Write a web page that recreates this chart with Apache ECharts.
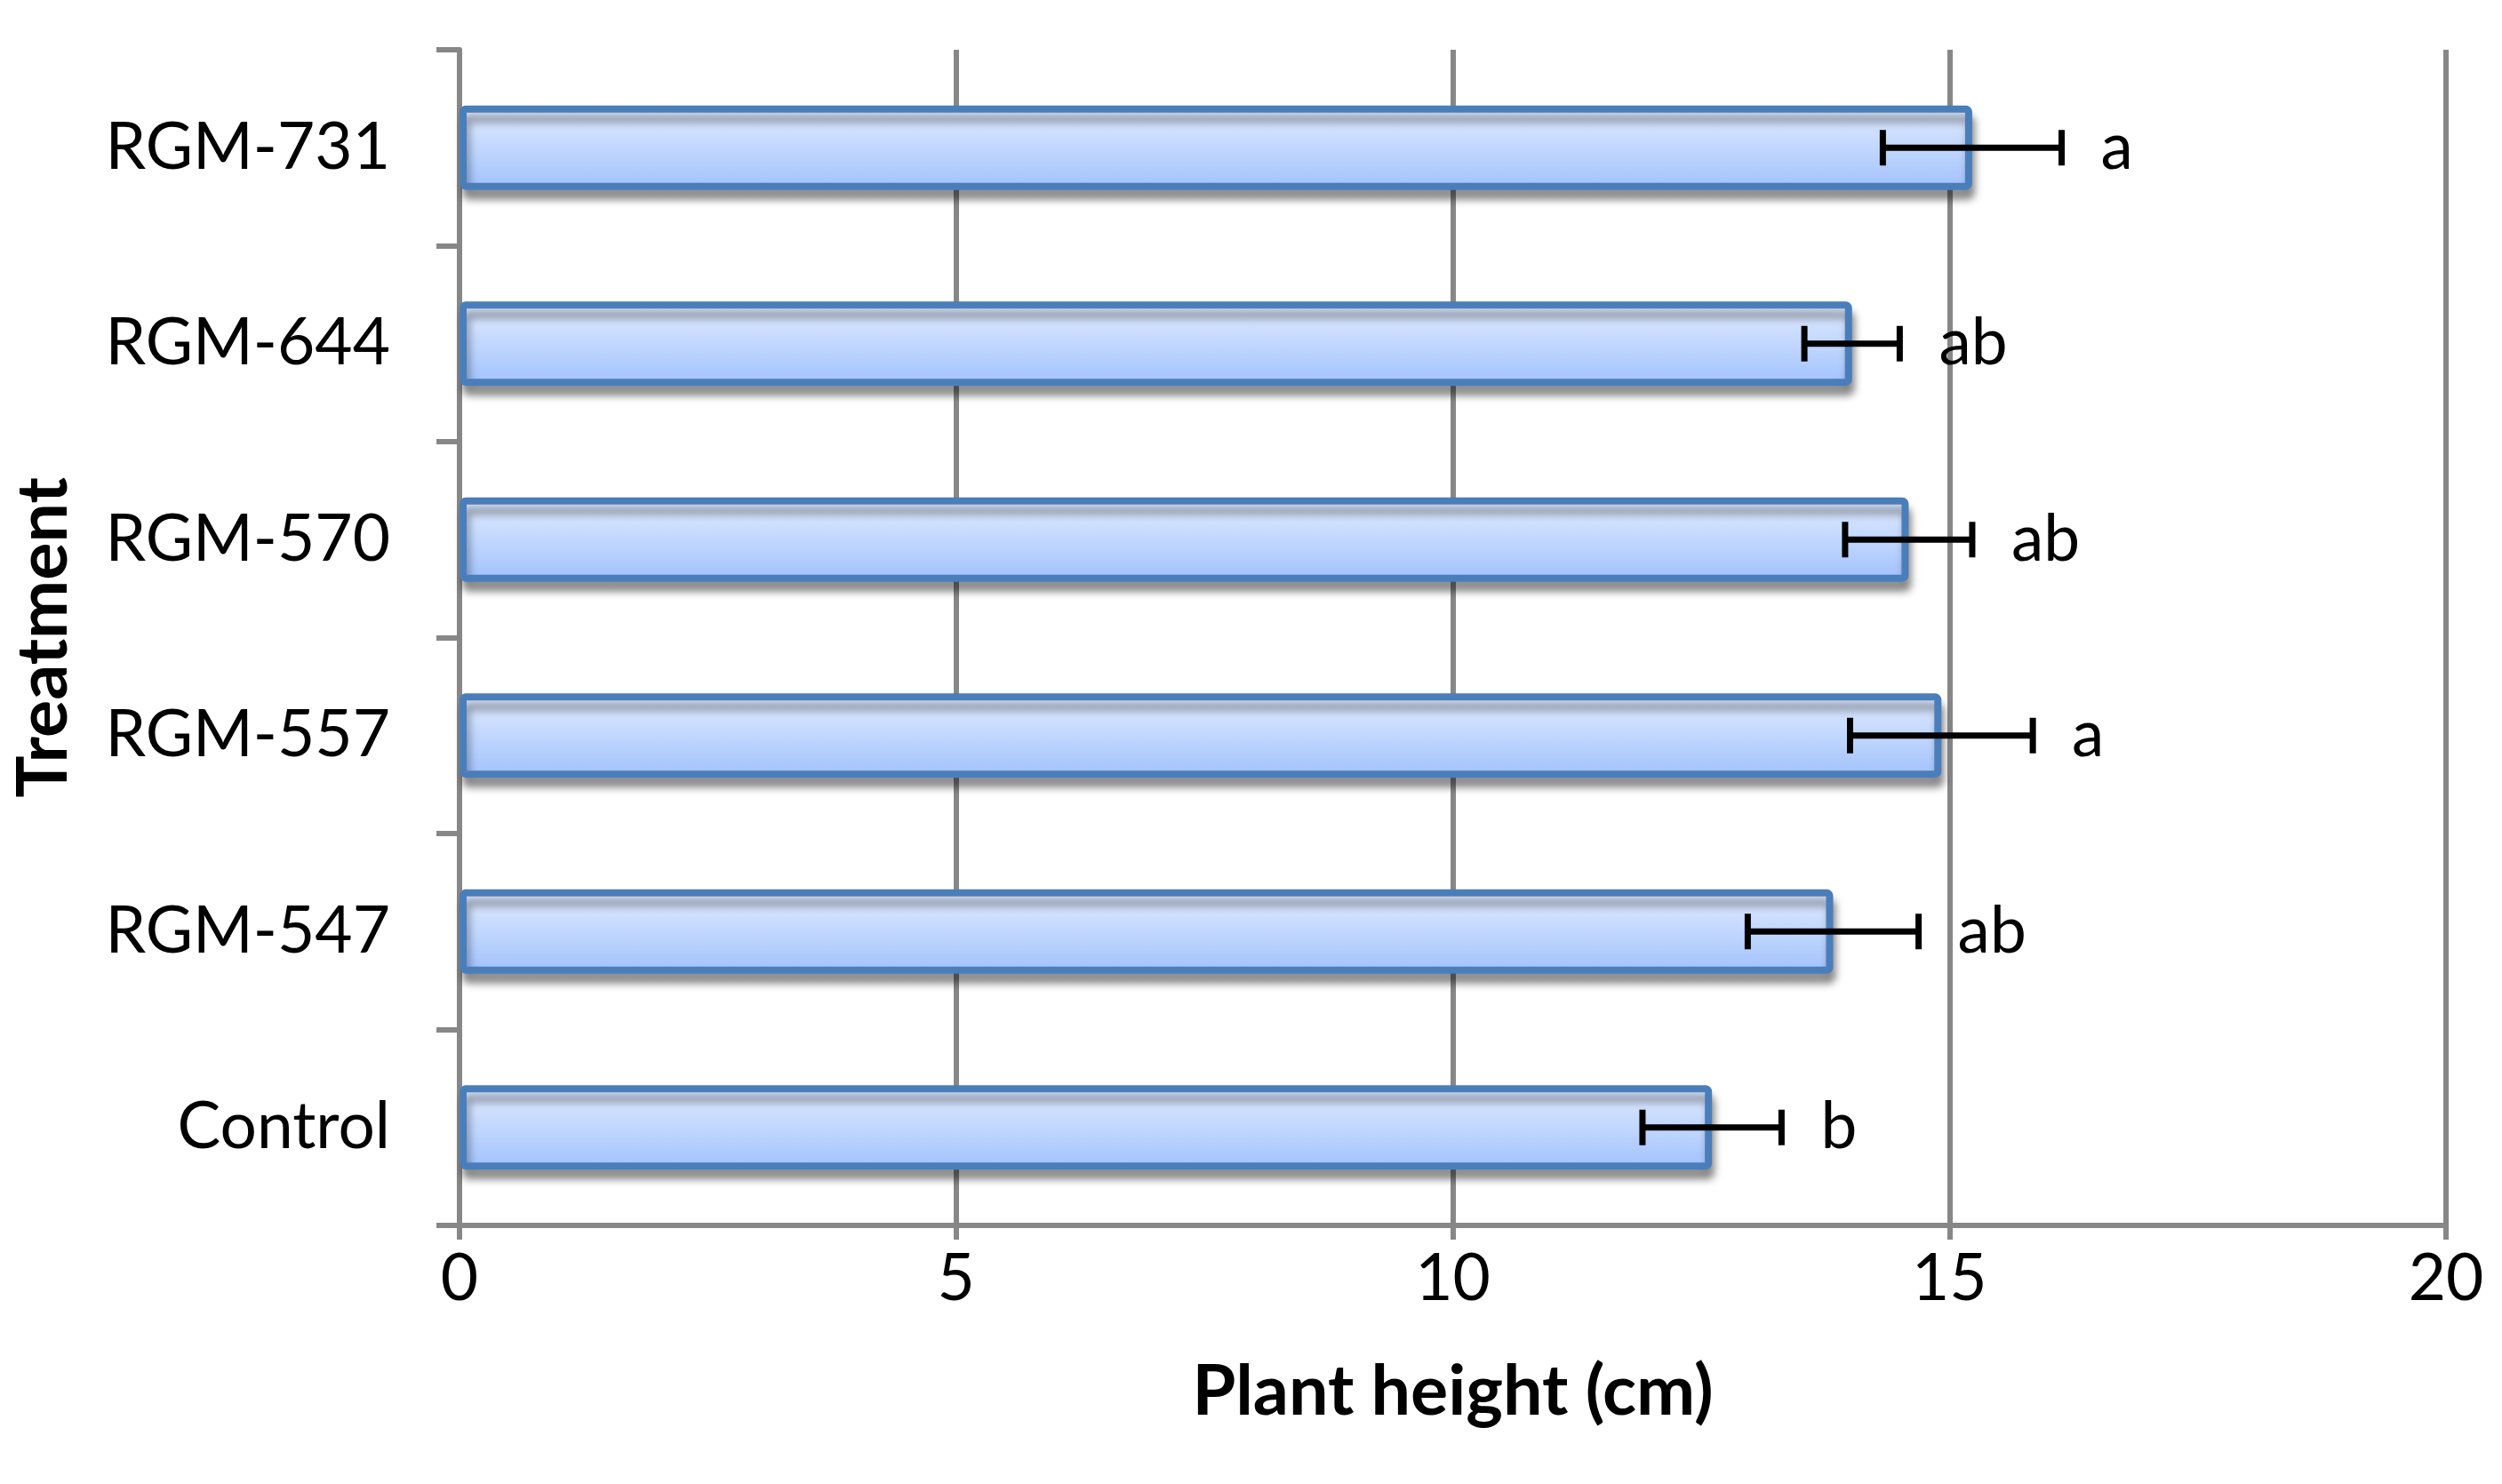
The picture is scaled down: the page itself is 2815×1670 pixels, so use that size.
<!DOCTYPE html>
<html>
<head>
<meta charset="utf-8">
<script src="https://cdn.jsdelivr.net/npm/echarts@6/dist/echarts.min.js"></script>
<style>
  html, body { margin: 0; padding: 0; background: #fff; }
  #chart { width: 2815px; height: 1670px; }
</style>
</head>
<body>
<div id="chart"></div>
<script>
// 处理组 (bottom to top)
let treatments = ["Control", "RGM-547", "RGM-557", "RGM-570", "RGM-644", "RGM-731"];
// 株高均值 (cm)
let heights = [12.61, 13.83, 14.92, 14.59, 14.02, 15.23];
// 误差 (±)
let errors = [0.70, 0.86, 0.92, 0.64, 0.48, 0.90];
// 显著性字母
let letters = ["b", "ab", "a", "ab", "ab", "a"];

let xTicks = [0, 5, 10, 15, 20];

const FONT = "Lato";
const GRAY = "#878787";

let errData = treatments.map((t, i) => [i, heights[i] - errors[i], heights[i] + errors[i]]);

let chart = echarts.init(document.getElementById("chart"), null, { renderer: "canvas" });

chart.setOption({
  animation: false,
  backgroundColor: "#fff",
  grid: { left: 517, right: 63, top: 56, bottom: 291, containLabel: false },
  xAxis: {
    type: "value",
    min: xTicks[0],
    max: xTicks[xTicks.length - 1],
    interval: 5,
    name: "Plant height (cm)",
    nameLocation: "middle",
    nameGap: 148,
    nameTextStyle: { fontFamily: FONT, fontSize: 79, fontWeight: "bold", color: "#000" },
    axisLine: { show: true, lineStyle: { color: GRAY, width: 6 } },
    axisTick: { show: true, length: 16, lineStyle: { color: GRAY, width: 6 } },
    axisLabel: { fontFamily: FONT, fontSize: 73, color: "#000", margin: 24 },
    splitLine: { show: true, lineStyle: { color: GRAY, width: 6 } },
  },
  yAxis: {
    type: "category",
    data: treatments,
    name: "Treatment",
    nameLocation: "middle",
    nameGap: 428,
    nameTextStyle: { fontFamily: FONT, fontSize: 79, fontWeight: "bold", color: "#000" },
    axisLine: { show: true, lineStyle: { color: GRAY, width: 6 } },
    axisTick: { show: true, length: 26, lineStyle: { color: GRAY, width: 6 } },
    axisLabel: { fontFamily: FONT, fontSize: 73, color: "#000", margin: 78 },
    splitLine: { show: false },
  },
  series: [
    {
      type: "bar",
      data: heights,
      barCategoryGap: "57%",
      itemStyle: {
        color: new echarts.graphic.LinearGradient(0, 0, 0, 1, [
          { offset: 0, color: "#e3edff" },
          { offset: 1, color: "#a0c1fc" },
        ]),
        borderColor: "#4a7ebb",
        borderWidth: 8,
        borderRadius: 3,
        shadowColor: "rgba(0,0,0,0.38)",
        shadowBlur: 10,
        shadowOffsetX: 3,
        shadowOffsetY: 11,
      },
    },
    {
      // 误差线 + 字母
      type: "custom",
      data: errData,
      encode: { x: [1, 2], y: 0 },
      z: 10,
      renderItem: (params, api) => {
        let idx = params.dataIndex;
        let cat = api.value(0);
        let lo = api.coord([api.value(1), cat]);
        let hi = api.coord([api.value(2), cat]);
        let cap = 20;
        let ls = { stroke: "#000", lineWidth: 7 };
        return {
          type: "group",
          children: [
            { type: "line", shape: { x1: lo[0], y1: lo[1], x2: hi[0], y2: hi[1] }, style: ls },
            { type: "line", shape: { x1: lo[0], y1: lo[1] - cap, x2: lo[0], y2: lo[1] + cap }, style: ls },
            { type: "line", shape: { x1: hi[0], y1: hi[1] - cap, x2: hi[0], y2: hi[1] + cap }, style: ls },
            {
              type: "text",
              x: hi[0] + 44,
              y: hi[1],
              style: {
                text: letters[idx],
                fontFamily: FONT,
                fontSize: 73,
                fill: "#000",
                align: "left",
                verticalAlign: "middle",
              },
            },
          ],
        };
      },
    },
  ],
});
</script>
</body>
</html>
